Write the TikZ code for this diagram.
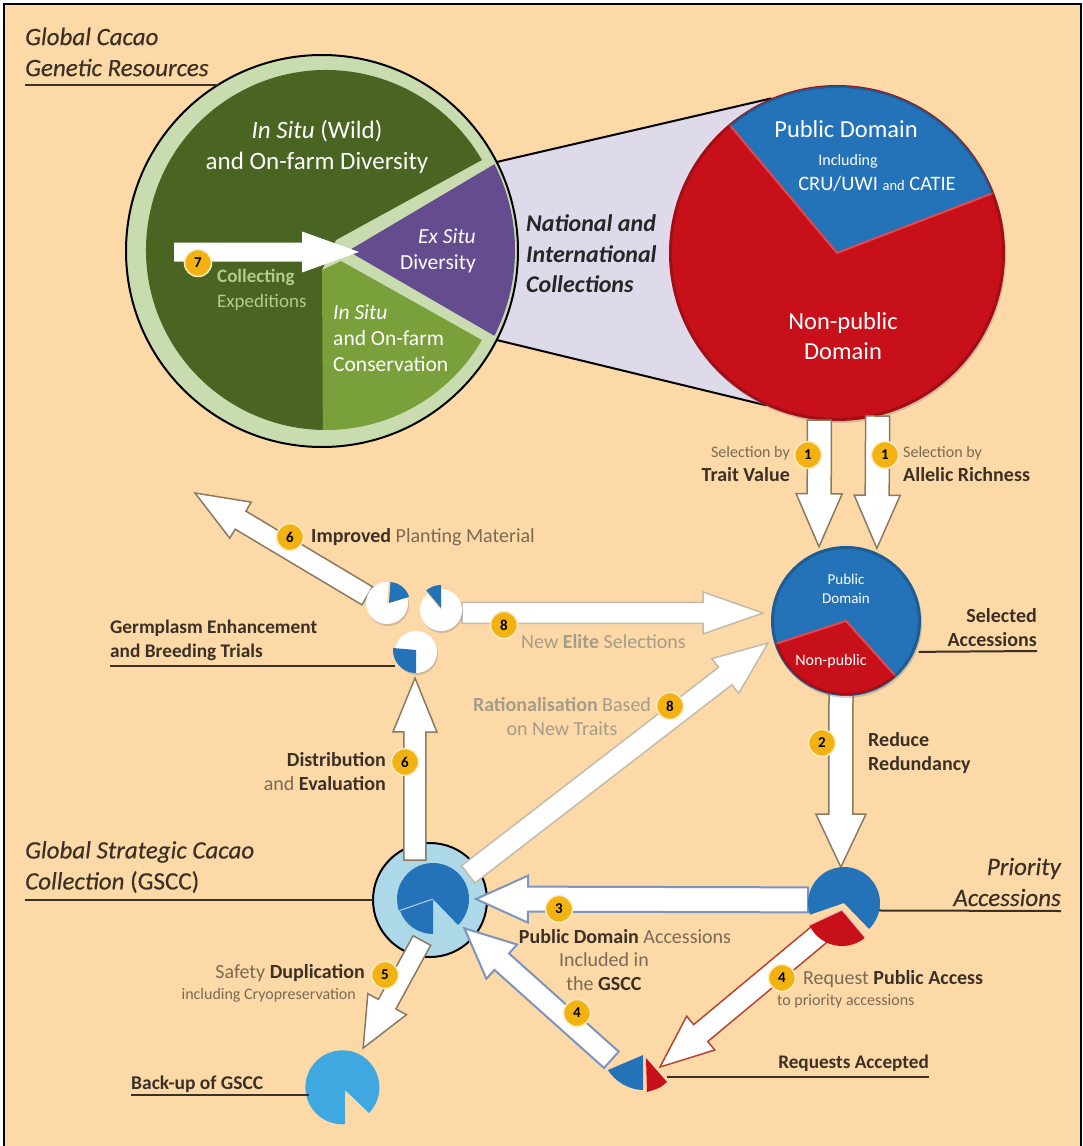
\documentclass[tikz,border=0pt]{standalone}
\usepackage{fontspec}
\setmainfont{Carlito}
\newfontfamily\semifont[FakeBold=0.3]{Carlito}
\usetikzlibrary{calc,shadows}
\definecolor{pagebg}{HTML}{FDD9A8}
\definecolor{darkgreen}{HTML}{4A6422}
\definecolor{midgreen}{HTML}{7AA03C}
\definecolor{palegreen}{HTML}{C9DCB0}
\definecolor{lightleaf}{HTML}{B4CC8A}
\definecolor{purple}{HTML}{654C8E}
\definecolor{lilac}{HTML}{DEDAEA}
\definecolor{pieblue}{HTML}{2472B8}
\definecolor{piered}{HTML}{C8101A}
\definecolor{redglow}{HTML}{E4484C}
\definecolor{paleblue}{HTML}{ACD8E8}
\definecolor{backblue}{HTML}{40A8E0}
\definecolor{badgey}{HTML}{F2B211}
\definecolor{inktext}{HTML}{3A3025}
\definecolor{softtext}{HTML}{7A6A55}
\definecolor{fadetext}{HTML}{A59C88}
\definecolor{arrowtan}{HTML}{8A7A62}
\definecolor{arrowpale}{HTML}{C4BBA8}
\definecolor{arrowblue}{HTML}{7C94BE}
\definecolor{arrowred}{HTML}{B8442E}
\newcommand{\piece}[5]{\fill[#1] #2 -- ++(#3:#5) arc[start angle=#3,end angle=#4,radius=#5] -- cycle;}
\tikzset{
	every node/.append style={inner xsep=0pt},
	hub/.style={circle,inner sep=0pt,outer sep=0pt,minimum size=#1},
	badge/.style={circle,fill=badgey,draw=white!75!badgey,line width=1.5pt,minimum size=27pt,inner sep=0pt,text=black,font=\fontsize{15}{15}\selectfont\bfseries},
	fatarrow/.style n args={3}{to path={
		($(\tikztostart)!#1!90:(\tikztotarget)$)
		-- ($(\tikztotarget)!#3!(\tikztostart)!#1!90:(\tikztotarget)$)
		-- ($(\tikztotarget)!#3!(\tikztostart)!#2!90:(\tikztotarget)$)
		-- (\tikztotarget)
		-- ($(\tikztotarget)!#3!(\tikztostart)!#2!-90:(\tikztotarget)$)
		-- ($(\tikztotarget)!#3!(\tikztostart)!#1!-90:(\tikztotarget)$)
		-- ($(\tikztostart)!#1!-90:(\tikztotarget)$) -- cycle}},
	tanarrow/.style={fill=white,draw=arrowtan,line width=1.5pt},
	palearrow/.style={fill=white,draw=arrowpale,line width=1.5pt},
	bluearrow/.style={fill=white,draw=arrowblue,line width=2pt},
	redarrow/.style={fill=white,draw=arrowred,line width=1.5pt},
	softshadow/.style={drop shadow={shadow xshift=1pt,shadow yshift=-2pt,opacity=.35}},
	leader/.style={draw=inktext,line width=2pt},
	title/.style={text=inktext,align=left,font=\fontsize{25}{31}\semifont\itshape},
	dark/.style={text=inktext,font=\fontsize{20}{24}\selectfont\bfseries},
	soft/.style={text=softtext,font=\fontsize{20}{24}\selectfont},
	fine/.style={text=softtext,font=\fontsize{16}{16}\selectfont},
	fade/.style={text=fadetext,font=\fontsize{20}{24}\selectfont},
	inpie/.style={text=white,font=\fontsize{21.5}{26}\selectfont}
}
\begin{document}
\begin{tikzpicture}[x=1pt,y=1pt]
	\useasboundingbox (0,0) rectangle (1083,-1146);
	\fill[pagebg] (4,-4) rectangle (1081,-1146);
	\draw[black,line width=2pt] (4,-1146) -- (4,-4) -- (1081,-4) -- (1081,-1146);

	\node[hub=392pt] (genres) at (322,-251) {};
	\node[hub=336pt] (natcoll) at (837,-253) {};
	\node[hub=158pt] (selacc) at (846,-621) {};
	\node[hub=72pt] (prio) at (844,-903) {};
	\node[hub=114pt] (gscc) at (430,-900) {};
	\node[hub=86pt] (gscchub) at (433,-899) {};
	\node[hub=86pt] (backup) at (345,-1087) {};
	\node[hub=72pt] (reqs) at (644,-1075) {};
	\node[hub=42pt] (pieA) at (387,-603) {};
	\node[hub=42pt] (pieB) at (441,-610) {};
	\node[hub=42pt] (pieC) at (416,-652) {};
	\coordinate (coltail) at (174,-252);
	\coordinate (coltip) at (359,-252);
	\coordinate (improvedtip) at (195,-493);
	\coordinate (elitetip) at (763,-613);
	\coordinate (rattip) at (768,-643);
	\coordinate (breedtip) at (415,-678);
	\coordinate (acctip) at (660,-1067);
	\coordinate (redtail) at (841,-690);

	\fill[lilac] (genres.27) -- (natcoll.113) -- (natcoll.-115) -- (genres.-27) -- cycle;
	\draw[black,line width=2pt] (genres.27) -- (natcoll.113);
	\draw[black,line width=2pt] (genres.-27) -- (natcoll.-115);
	\draw[fill=palegreen,draw=black,line width=2pt] (genres.center) circle[radius=196];
	\fill[darkgreen] (336,-240) -- ($(326,-250)+(30:180)$) arc[start angle=30,end angle=270,radius=180] -- (322,-270) -- cycle;
	\fill[midgreen] (322,-270) -- (341,-261) -- ($(326,-250)+(-30:180)$) arc[start angle=-30,end angle=-91,radius=180] -- cycle;
	\fill[purple] (348,-251) -- ($(326,-250)+(27:189)$) arc[start angle=27,end angle=-27,radius=189] -- cycle;
	\fill[white] [fatarrow={9.5pt}{20.5pt}{57pt}] (coltail) to (coltip);

	\fill[piered,softshadow] (natcoll.center) circle[radius=168];
	\piece{pieblue}{(natcoll.center)}{21}{130}{167}
	\draw[redglow,line width=2pt] ($(natcoll.center)+(130:167)$) -- (natcoll.center) -- ($(natcoll.center)+(21:167)$);
	\draw[black,opacity=.18,line width=3pt] (natcoll.center) circle[radius=166.5];
	\fill[paleblue,draw=black,line width=2pt] (gscc.center) circle[radius=57];

	\draw[fatarrow={12pt}{23pt}{53pt},tanarrow] (natcoll.-96.5) to (selacc.110.8);
	\draw[fatarrow={12pt}{23pt}{53pt},tanarrow] (natcoll.-76.6) to (selacc.67.7);
	\draw[fatarrow={12pt}{25pt}{53pt},tanarrow] (redtail) to (prio.95);
	\draw[fatarrow={10.5pt}{21pt}{53pt},tanarrow] (pieA.160) to (improvedtip);
	\draw[fatarrow={10.5pt}{21pt}{60pt},palearrow] (pieB.-8) to (elitetip);
	\draw[fatarrow={11pt}{22pt}{54pt},palearrow] (gscchub.35) to (rattip);
	\draw[fatarrow={11pt}{22pt}{54pt},tanarrow] (gscchub.115) to (breedtip);
	\draw[fatarrow={12.5pt}{23.5pt}{52pt},bluearrow] (prio.175) to (gscchub.0);
	\draw[fatarrow={11pt}{23pt}{50pt},bluearrow] (reqs.155) to (gscchub.-43);
	\draw[fatarrow={10pt}{22pt}{50pt},tanarrow] (gscchub.-105) to (backup.65);
	\draw[fatarrow={11pt}{22pt}{53pt},redarrow] (prio.-127) to (acctip);

	\fill[pieblue,softshadow] (selacc.center) circle[radius=75];
	\piece{piered}{(selacc.center)}{198}{312}{74}
	\draw[redglow,line width=2pt] ($(selacc.center)+(198:74)$) -- (selacc.center) -- ($(selacc.center)+(312:74)$);
	\draw[black,opacity=.18,line width=3pt] (selacc.center) circle[radius=73.5];
	\fill[white,softshadow] (pieA.center) circle[radius=21];
	\fill[white,softshadow] (pieB.center) circle[radius=21];
	\fill[white,softshadow] (pieC.center) circle[radius=21];
	\piece{pagebg}{(pieA.center)}{17}{86}{22}
	\piece{pagebg}{(pieB.center)}{90}{130}{22}
	\piece{pieblue}{(389,-603)}{17}{86}{21}
	\piece{pieblue}{(441,-608)}{90}{130}{23}
	\piece{pieblue}{(416,-650)}{175}{270}{23}
	\piece{pieblue}{(gscchub.center)}{-46}{199}{36}
	\piece{pieblue}{(gscchub.center)}{199}{270}{35}
	\draw[white!65!pieblue,line width=1pt] ($(gscchub.center)+(199:35)$) -- (gscchub.center);
	\piece{pieblue}{(prio.center)}{-46}{199}{36}
	\piece{piered}{(842,-910)}{205}{310}{36}
	\draw[white!70!piered,line width=1pt] ($(842,-910)+(205:36)$) -- (842,-910) -- ($(842,-910)+(310:36)$);
	\fill[backblue] (345,-1090) -- (369,-1113) arc[start angle=-44,end angle=274,radius=37] -- cycle;
	\fill[pieblue] (643,-1055) -- (608,-1070) .. controls (615,-1082) and (630,-1090) .. (643,-1090) -- cycle;
	\fill[piered] (646,-1058) -- (667,-1082) .. controls (660,-1088) .. (647,-1092) -- cycle;

	\node[title,anchor=west] (grlabel) at (25,-52) {Global Cacao\\Genetic Resources};
	\node[title,anchor=west] (gscclabel) at (25,-867) {Global Strategic Cacao\\Collection \textup{(GSCC)}};
	\node[title,anchor=east,align=right] (priolabel) at (1061,-882) {Priority\\Accessions};
	\node[title,anchor=west,font=\fontsize{24}{30.5}\selectfont\bfseries\itshape,text=black!85] (natlabel) at (526,-254) {National and\\International\\Collections};
	\draw[leader] (25,-85) -- (genres.122 |- 0,-85);
	\draw[leader] (gscc.180) -- (25,-900);
	\draw[leader] (prio.-12) -- (1061,-911);
	\draw[leader] (selacc.-23) -- (1037,-651);
	\draw[leader] (667,-1077) -- (929,-1077);
	\draw[leader] (131,-1095) -- (309,-1095);
	\draw[leader] (110,-666) -- (pieC.west |- 0,-666);

	\node[inpie,align=center,font=\fontsize{25}{31}\selectfont] (wild) at (317,-147) {\textit{In Situ} (Wild)\\and On-farm Diversity};
	\node[inpie,align=right,anchor=east] (exsitu) at (476,-251) {\textit{Ex Situ}\\Diversity};
	\node[inpie,align=left,anchor=west] (insitu) at (333,-338) {\textit{In Situ}\\and On-farm\\Conservation};
	\node[text=lightleaf,align=left,anchor=west,font=\fontsize{19}{25}\selectfont] (collect) at (217,-290) {\textbf{Collecting}\\Expeditions};
	\node[inpie,font=\fontsize{24.5}{24}\selectfont] (pubdom) at (846,-129) {Public Domain};
	\node[inpie,font=\fontsize{16}{13}\selectfont] (incl) at (848,-161) {Including};
	\node[inpie,font=\fontsize{20.5}{19}\selectfont] (cru) at (877,-184) {CRU/UWI {\fontsize{14.5}{13}\selectfont and} CATIE};
	\node[inpie,align=center,font=\fontsize{24.5}{30}\selectfont] (nonpub) at (843,-336) {Non-public\\Domain};
	\node[inpie,align=center,font=\fontsize{15}{19}\selectfont] (selpub) at (846,-589) {Public\\Domain};
	\node[inpie,font=\fontsize{16}{15}\selectfont] (selnon) at (831,-661) {Non-public};

	\node[soft,anchor=east,align=right] (trait) at (790,-464) {{\fontsize{16}{22}\selectfont Selection by}\\\textbf{\textcolor{inktext}{Trait Value}}};
	\node[soft,anchor=west,align=left] (allelic) at (903,-464) {{\fontsize{16}{22}\selectfont Selection by}\\\textbf{\textcolor{inktext}{Allelic Richness}}};
	\node[dark,anchor=east,align=right] (selected) at (1037,-628) {Selected\\Accessions};
	\node[dark,anchor=west,align=left] (reduce) at (868,-753) {Reduce\\Redundancy};
	\node[soft,anchor=west] (improved) at (311,-537) {\textbf{\textcolor{inktext}{Improved}} Planting Material};
	\node[dark,anchor=west,align=left,font=\fontsize{19.3}{24}\selectfont\bfseries] (breeding) at (110,-640) {Germplasm Enhancement\\and Breeding Trials};
	\node[fade,anchor=west] (elite) at (521,-642) {New \textbf{Elite} Selections};
	\node[fade,align=center] (rational) at (562,-717) {\textbf{Rationalisation} Based\\on New Traits};
	\node[soft,anchor=east,align=right] (distrib) at (386,-772) {\textbf{\textcolor{inktext}{Distribution}}\\and \textbf{\textcolor{inktext}{Evaluation}}};
	\node[soft] (pubacc) at (625,-937) {\textbf{\textcolor{inktext}{Public Domain}} Accessions};
	\node[soft,align=center] (included) at (604,-972) {Included in\\the \textbf{\textcolor{inktext}{GSCC}}};
	\node[soft,anchor=east] (safety) at (365,-973) {Safety \textbf{\textcolor{inktext}{Duplication}}};
	\node[fine,anchor=east] (cryo) at (356,-995) {including Cryopreservation};
	\node[soft,anchor=west] (reqpub) at (803,-979) {Request \textbf{\textcolor{inktext}{Public Access}}};
	\node[fine,anchor=west] (topri) at (777,-1001) {to priority accessions};
	\node[dark,anchor=east,font=\fontsize{19.2}{17}\selectfont\bfseries] (accepted) at (929,-1063) {Requests Accepted};
	\node[dark,anchor=west,font=\fontsize{19.5}{17}\selectfont\bfseries] (backlabel) at (131,-1084) {Back-up of GSCC};

	\node[badge] (b7) at (198,-263) {7};
	\node[badge] (b1a) at (808,-455) {1};
	\node[badge] (b1b) at (885,-455) {1};
	\node[badge] (b6a) at (290,-537) {6};
	\node[badge] (b8a) at (504,-625) {8};
	\node[badge] (b8b) at (670,-706) {8};
	\node[badge] (b6b) at (405,-762) {6};
	\node[badge] (b2) at (822,-743) {2};
	\node[badge] (b3) at (559,-909) {3};
	\node[badge] (b5) at (385,-975) {5};
	\node[badge] (b4a) at (577,-1013) {4};
	\node[badge] (b4b) at (782,-978) {4};
\end{tikzpicture}
\end{document}
